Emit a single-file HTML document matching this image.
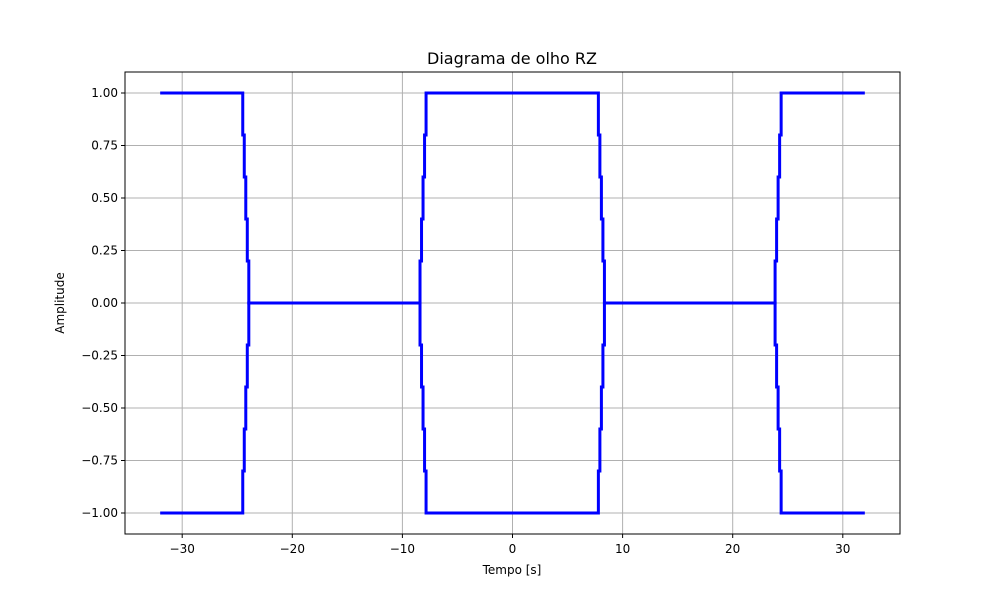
<!DOCTYPE html>
<html><head><meta charset="utf-8"><style>
body{margin:0;background:#fff}
svg{display:block;font-family:"DejaVu Sans","Liberation Sans",sans-serif}
</style></head><body>
<svg id="chart" width="1000" height="600">
<text x="512" y="64" font-size="16" text-anchor="middle">Diagrama de olho RZ</text>
<g id="grid"></g>
<g id="series"></g>
<g id="axes"></g>
<text x="512" y="574" font-size="12" text-anchor="middle">Tempo [s]</text>
<text transform="translate(64,303) rotate(-90)" font-size="12" text-anchor="middle">Amplitude</text>
</svg>
<script>
const xTicks=[-30,-20,-10,0,10,20,30];
const yTicks=[1,0.75,0.5,0.25,0,-0.25,-0.5,-0.75,-1];
const yTickLabels=["1.00","0.75","0.50","0.25","0.00","\u22120.25","\u22120.50","\u22120.75","\u22121.00"];
// traces: list of [x,y] vertices; transitions drawn as 5-step staircases
const traceTop=[[-32,1],[-24.5,1],[-23.95,0],[-8.4,0],[-7.85,1],[7.8,1],[8.35,0],[23.85,0],[24.4,1],[32,1]];
const traceBottom=[[-32,-1],[-24.5,-1],[-23.95,0],[-8.4,0],[-7.85,-1],[7.8,-1],[8.35,0],[23.85,0],[24.4,-1],[32,-1]];
const L=125,R=900,T=72,B=534;
const X=v=>512.5+v*11.01;
const Y=v=>303-v*210;
const NS="http://www.w3.org/2000/svg";
function mk(t,a,p){const e=document.createElementNS(NS,t);for(const k in a)e.setAttribute(k,a[k]);p.appendChild(e);return e;}
const grid=document.getElementById('grid'),axes=document.getElementById('axes'),ser=document.getElementById('series');
xTicks.forEach(v=>{
 const g=mk('line',{x1:X(v),x2:X(v),y1:T,y2:B,stroke:'#b0b0b0','stroke-width':1},grid);
 
 
 mk('line',{x1:X(v),x2:X(v),y1:B,y2:B+4,stroke:'#000'},axes);
 const t=mk('text',{x:X(v),y:B+19,'font-size':12,'text-anchor':'middle'},axes);
 t.textContent=v<0?'\u2212'+(-v):String(v);
 
 
});
yTicks.forEach((v,i)=>{
 const g=mk('line',{x1:L,x2:R,y1:Y(v),y2:Y(v),stroke:'#b0b0b0','stroke-width':1},grid);
 
 
 mk('line',{x1:L-4,x2:L,y1:Y(v),y2:Y(v),stroke:'#000'},axes);
 const t=mk('text',{x:L-7,y:Y(v)+4,'font-size':12,'text-anchor':'end'},axes);
 t.textContent=yTickLabels[i];
 
 
});
const fr=mk('rect',{x:L,y:T,width:R-L,height:B-T,fill:'none',stroke:'#000','stroke-width':1},axes);


function path(tr){
 let d='M'+X(tr[0][0])+','+Y(tr[0][1]);
 for(let i=1;i<tr.length;i++){
  const [x0,y0]=tr[i-1],[x1,y1]=tr[i];
  if(y0===y1){d+=' L'+X(x1)+','+Y(y1);continue;}
  const n=5;
  for(let k=0;k<n;k++){
   const xs=x0+(x1-x0)*k/(n-1);
   d+=' L'+X(xs)+','+Y(y0+(y1-y0)*k/n)+' L'+X(xs)+','+Y(y0+(y1-y0)*(k+1)/n);
  }
  d+=' L'+X(x1)+','+Y(y1);
 }
 return d;
}
[traceTop,traceBottom].forEach((tr,i)=>{
 const p=mk('path',{d:path(tr),fill:'none',stroke:'#0000ff','stroke-width':3,'stroke-linejoin':'miter'},ser);
 
 
});
</script>
</body></html>
